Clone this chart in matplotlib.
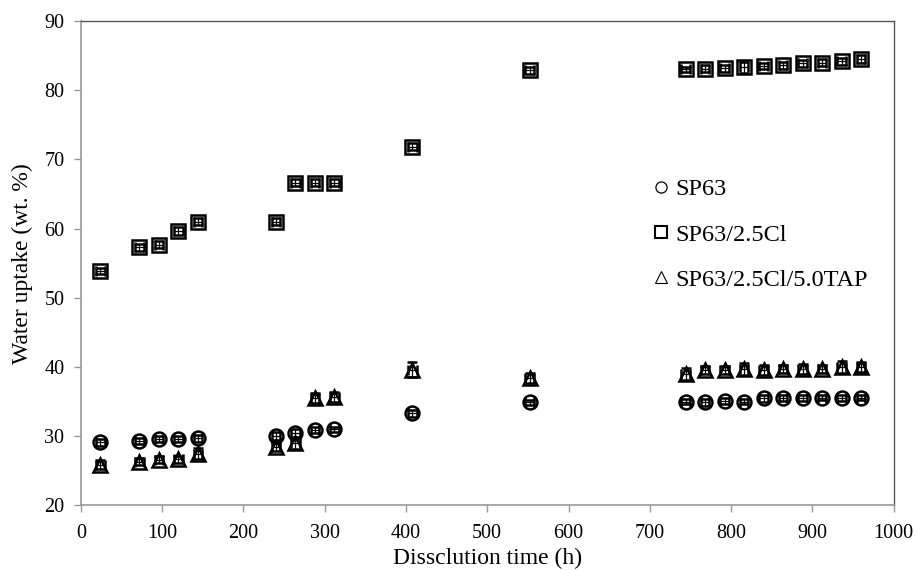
# Water uptake vs dissolution time, three membranes

import matplotlib
matplotlib.use("Agg")
import matplotlib.pyplot as plt
from matplotlib.lines import Line2D

# ------------------------------------------
# Data
# ------------------------------------------

time_h = [24, 72, 96, 120, 144, 240, 264, 288, 312, 408, 552,
          744, 768, 792, 816, 840, 864, 888, 912, 936, 960]

sp63 = [29.1, 29.3, 29.6, 29.6, 29.7, 30.0, 30.5, 30.9, 31.0, 33.3, 34.9,
        35.0, 34.9, 35.1, 35.0, 35.5, 35.5, 35.5, 35.6, 35.5, 35.6]

sp63_cl = [53.9, 57.3, 57.7, 59.7, 61.0, 61.0, 66.6, 66.6, 66.6, 71.8, 82.9,
           83.0, 83.1, 83.2, 83.3, 83.5, 83.6, 83.9, 84.0, 84.2, 84.5]

sp63_cl_tap = [25.9, 26.3, 26.6, 26.7, 27.5, 28.5, 29.0, 35.5, 35.7, 39.6, 38.4,
               39.0, 39.6, 39.6, 39.7, 39.6, 39.7, 39.7, 39.7, 40.0, 40.0]

sp63_err = [0.5, 0.4, 0.5, 0.4, 0.5, 0.6, 0.6, 0.4, 0.4, 0.5, 0.4,
            0.4, 0.5, 0.4, 0.4, 0.5, 0.4, 0.4, 0.4, 0.4, 0.4]

sp63_cl_err = [0.4, 0.5, 0.5, 0.6, 0.5, 0.5, 0.5, 0.5, 0.5, 0.5, 0.5,
               0.4, 0.5, 0.5, 0.8, 0.5, 0.5, 0.5, 0.5, 0.5, 0.6]

sp63_cl_tap_err = [0.6, 0.5, 0.5, 0.5, 0.8, 0.7, 0.8, 0.7, 0.7, 1.1, 0.7,
                   0.8, 0.6, 0.6, 0.9, 0.7, 0.6, 0.7, 0.6, 0.9, 0.7]

time_err = [5] * len(time_h)

labels = ["SP63", "SP63/2.5Cl", "SP63/2.5Cl/5.0TAP"]

# ------------------------------------------
# Plot
# ------------------------------------------

plt.rcParams["font.family"] = ["Liberation Serif", "DejaVu Serif"]

fig = plt.figure(figsize=(9.17, 5.70), dpi=100)
ax = fig.add_axes([0.0883, 0.1132, 0.8861, 0.8500])

series = [
    (sp63, sp63_err, "o", 10),
    (sp63_cl, sp63_cl_err, "s", 10.5),
    (sp63_cl_tap, sp63_cl_tap_err, "^", 10.5),
]

for values, errs, marker, size in series:
    ax.errorbar(
        time_h, values,
        yerr=errs, xerr=time_err,
        fmt=marker, markersize=size,
        markerfacecolor="none", markeredgecolor="black", markeredgewidth=1.8,
        ecolor="black", elinewidth=0.9, capsize=3.5, capthick=0.9,
        linestyle="none"
    )

ax.set_xlim(0, 1000)
ax.set_ylim(20, 90)
ax.set_xticks(range(0, 1001, 100))
ax.set_yticks(range(20, 91, 10))

ax.set_xlabel("Dissclution time (h)", fontsize=17)
ax.set_ylabel("Water uptake (wt. %)", fontsize=17)
ax.xaxis.set_label_coords(0.5, -0.088)
ax.yaxis.set_label_coords(-0.059, 0.5)

ax.tick_params(axis="both", direction="out", length=5, width=1,
               color="#999999", labelsize=14.5)
ax.tick_params(axis="x", pad=8)
ax.tick_params(axis="y", pad=7)

for side in ["left", "bottom"]:
    ax.spines[side].set_color("#999999")
    ax.spines[side].set_linewidth(1.2)
for side in ["top", "right"]:
    ax.spines[side].set_color("#555555")
    ax.spines[side].set_linewidth(1.0)

# legend
handles = [
    Line2D([], [], marker="o", linestyle="none", markersize=8,
           markerfacecolor="none", markeredgecolor="black", markeredgewidth=0.9),
    Line2D([], [], marker="s", linestyle="none", markersize=9,
           markerfacecolor="none", markeredgecolor="black", markeredgewidth=1.5),
    Line2D([], [], marker="^", linestyle="none", markersize=8,
           markerfacecolor="none", markeredgecolor="black", markeredgewidth=0.8),
]

ax.legend(
    handles, labels,
    loc="upper left", bbox_to_anchor=(0.69, 0.70),
    frameon=False, fontsize=17.5,
    handlelength=0.6, handletextpad=0.3,
    labelspacing=0.95, borderpad=0
)

fig.savefig("out.png", dpi=100)
